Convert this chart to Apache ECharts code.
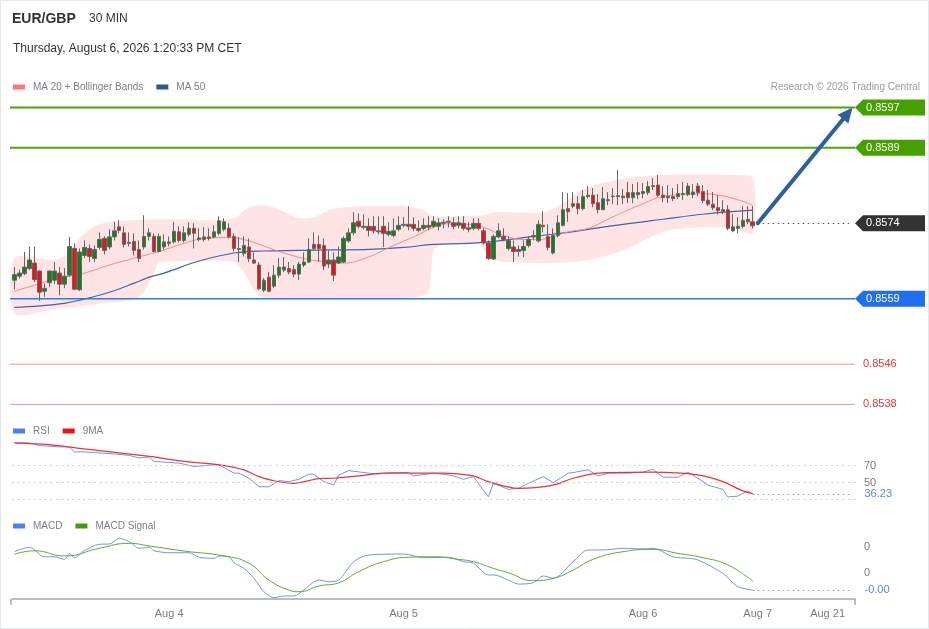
<!DOCTYPE html>
<html>
<head>
<meta charset="utf-8">
<script src="https://cdn.jsdelivr.net/npm/echarts@6.0.0/dist/echarts.min.js"></script>
<style>
html,body{margin:0;padding:0;background:#fff;}
#chart{width:929px;height:629px;}
</style>
</head>
<body>
<div id="chart"></div>
<script>
// ---------- DATA ----------
const candleOpen = [0.85627,0.85635,0.85640,0.85650,0.85661,0.85645,0.85605,0.85622,0.85627,0.85641,
 0.85619,0.85637,0.85690,0.85608,0.85676,0.85690,0.85670,0.85692,0.85710,0.85693,
 0.85713,0.85733,0.85721,0.85702,0.85704,0.85688,0.85693,0.85714,0.85714,0.85684,
 0.85693,0.85703,0.85703,0.85723,0.85706,0.85718,0.85730,0.85711,0.85708,0.85713,
 0.85713,0.85720,0.85728,0.85730,0.85714,0.85688,0.85680,0.85693,0.85667,0.85657,
 0.85607,0.85633,0.85615,0.85637,0.85647,0.85650,0.85648,0.85639,0.85657,0.85663,
 0.85698,0.85698,0.85696,0.85659,0.85667,0.85661,0.85663,0.85705,0.85721,0.85744,
 0.85732,0.85734,0.85734,0.85725,0.85734,0.85718,0.85716,0.85728,0.85736,0.85738,
 0.85738,0.85726,0.85730,0.85736,0.85734,0.85734,0.85740,0.85744,0.85741,0.85736,
 0.85740,0.85728,0.85730,0.85740,0.85725,0.85701,0.85669,0.85713,0.85714,0.85690,
 0.85693,0.85684,0.85686,0.85696,0.85713,0.85705,0.85736,0.85714,0.85681,0.85716,
 0.85736,0.85769,0.85774,0.85779,0.85769,0.85793,0.85796,0.85781,0.85767,0.85787,
 0.85793,0.85795,0.85791,0.85801,0.85791,0.85801,0.85799,0.85801,0.85813,0.85816,
 0.85796,0.85794,0.85793,0.85793,0.85797,0.85797,0.85797,0.85814,0.85803,0.85786,
 0.85778,0.85771,0.85763,0.85767,0.85725,0.85730,0.85734,0.85748,0.85743];
const candleClose = [0.85638,0.85641,0.85653,0.85667,0.85628,0.85603,0.85611,0.85645,0.85645,0.85619,
 0.85635,0.85694,0.85609,0.85683,0.85692,0.85674,0.85688,0.85708,0.85686,0.85713,
 0.85725,0.85726,0.85698,0.85700,0.85686,0.85670,0.85714,0.85721,0.85684,0.85714,
 0.85703,0.85700,0.85724,0.85706,0.85721,0.85730,0.85720,0.85708,0.85713,0.85710,
 0.85723,0.85745,0.85743,0.85713,0.85690,0.85690,0.85696,0.85670,0.85661,0.85610,
 0.85627,0.85605,0.85637,0.85653,0.85653,0.85643,0.85639,0.85659,0.85663,0.85688,
 0.85690,0.85690,0.85655,0.85667,0.85637,0.85673,0.85710,0.85721,0.85741,0.85734,
 0.85734,0.85726,0.85725,0.85723,0.85720,0.85724,0.85725,0.85736,0.85738,0.85734,
 0.85730,0.85730,0.85736,0.85732,0.85744,0.85741,0.85742,0.85742,0.85734,0.85741,
 0.85730,0.85731,0.85740,0.85730,0.85701,0.85670,0.85714,0.85725,0.85708,0.85706,
 0.85684,0.85688,0.85694,0.85708,0.85716,0.85738,0.85733,0.85692,0.85716,0.85741,
 0.85767,0.85763,0.85779,0.85769,0.85793,0.85796,0.85779,0.85767,0.85789,0.85785,
 0.85794,0.85793,0.85794,0.85791,0.85801,0.85797,0.85803,0.85813,0.85815,0.85796,
 0.85791,0.85791,0.85789,0.85799,0.85799,0.85814,0.85802,0.85801,0.85785,0.85778,
 0.85771,0.85765,0.85767,0.85730,0.85733,0.85734,0.85746,0.85743,0.85735];
const candleLow = [0.85609,0.85630,0.85637,0.85647,0.85623,0.85586,0.85594,0.85613,0.85619,0.85597,
 0.85611,0.85633,0.85607,0.85605,0.85671,0.85663,0.85663,0.85688,0.85678,0.85688,
 0.85706,0.85720,0.85692,0.85694,0.85676,0.85663,0.85688,0.85706,0.85682,0.85682,
 0.85688,0.85694,0.85700,0.85702,0.85702,0.85714,0.85690,0.85704,0.85704,0.85706,
 0.85710,0.85716,0.85724,0.85710,0.85684,0.85663,0.85674,0.85663,0.85659,0.85607,
 0.85603,0.85603,0.85611,0.85631,0.85643,0.85639,0.85633,0.85627,0.85653,0.85661,
 0.85686,0.85663,0.85647,0.85651,0.85625,0.85659,0.85661,0.85702,0.85716,0.85730,
 0.85728,0.85714,0.85720,0.85718,0.85693,0.85714,0.85712,0.85724,0.85732,0.85726,
 0.85724,0.85722,0.85726,0.85726,0.85730,0.85726,0.85730,0.85732,0.85728,0.85730,
 0.85726,0.85722,0.85726,0.85726,0.85698,0.85667,0.85667,0.85710,0.85704,0.85686,
 0.85663,0.85674,0.85673,0.85692,0.85706,0.85702,0.85722,0.85686,0.85678,0.85712,
 0.85734,0.85743,0.85770,0.85758,0.85766,0.85790,0.85772,0.85760,0.85766,0.85776,
 0.85778,0.85776,0.85778,0.85780,0.85780,0.85788,0.85790,0.85796,0.85806,0.85792,
 0.85782,0.85780,0.85784,0.85788,0.85786,0.85794,0.85790,0.85794,0.85780,0.85774,
 0.85766,0.85758,0.85758,0.85726,0.85722,0.85720,0.85730,0.85738,0.85730];
const candleHigh = [0.85653,0.85648,0.85683,0.85693,0.85693,0.85647,0.85620,0.85647,0.85663,0.85653,
 0.85651,0.85713,0.85700,0.85690,0.85706,0.85698,0.85696,0.85722,0.85714,0.85728,
 0.85743,0.85746,0.85734,0.85722,0.85720,0.85706,0.85756,0.85730,0.85720,0.85720,
 0.85718,0.85714,0.85743,0.85734,0.85734,0.85742,0.85740,0.85730,0.85732,0.85730,
 0.85736,0.85754,0.85750,0.85740,0.85720,0.85713,0.85714,0.85710,0.85682,0.85663,
 0.85631,0.85643,0.85657,0.85671,0.85673,0.85663,0.85657,0.85663,0.85682,0.85710,
 0.85722,0.85716,0.85710,0.85686,0.85682,0.85694,0.85714,0.85730,0.85762,0.85760,
 0.85758,0.85750,0.85754,0.85754,0.85754,0.85742,0.85750,0.85754,0.85752,0.85774,
 0.85752,0.85746,0.85750,0.85754,0.85754,0.85750,0.85748,0.85754,0.85752,0.85754,
 0.85754,0.85742,0.85750,0.85750,0.85730,0.85706,0.85718,0.85740,0.85730,0.85714,
 0.85706,0.85696,0.85706,0.85714,0.85726,0.85746,0.85764,0.85738,0.85730,0.85756,
 0.85802,0.85800,0.85802,0.85794,0.85806,0.85814,0.85810,0.85798,0.85812,0.85802,
 0.85810,0.85846,0.85808,0.85822,0.85818,0.85822,0.85820,0.85824,0.85830,0.85836,
 0.85814,0.85816,0.85810,0.85818,0.85822,0.85820,0.85818,0.85820,0.85816,0.85806,
 0.85802,0.85796,0.85786,0.85776,0.85758,0.85752,0.85774,0.85774,0.85774];

// moving averages / bands: [bar index, value] read at sampled positions
const ma50Points = [[0,0.85573],[5,0.85576],[10,0.85581],[13,0.85587],[19,0.85603],[24,0.85621],[27,0.85633],[30,0.85641],[37,0.85665],[44,0.85681],[50,0.85685],[57,0.85686],[64,0.85687],[71,0.85688],[78,0.85692],[84,0.85698],[91,0.85700],[98,0.85706],[104,0.85714],[111,0.85722],[115,0.85728],[122,0.85738],[130,0.85748],[138,0.85758],[148,0.85766]];
const ma20Points = [[0,0.85605],[4,0.85617],[7,0.85626],[10,0.85633],[14,0.85641],[19,0.85657],[23,0.85668],[26,0.85676],[29,0.85684],[34,0.85700],[38,0.85710],[43,0.85712],[47,0.85705],[51,0.85691],[55,0.85678],[59,0.85668],[63,0.85663],[66,0.85661],[71,0.85673],[76,0.85696],[80,0.85713],[84,0.85732],[87,0.85739],[91,0.85738],[94,0.85732],[98,0.85716],[102,0.85708],[105,0.85708],[108,0.85713],[111,0.85723],[115,0.85730],[120,0.85753],[126,0.85779],[130,0.85793],[138,0.85799],[141,0.85796],[145,0.85787],[148,0.85776]];
const bandUpper = [[0,0.85671],[8,0.85667],[11,0.85682],[13,0.85710],[16,0.85734],[20,0.85744],[30,0.85748],[40,0.85746],[44,0.85750],[47,0.85772],[50,0.85776],[53,0.85768],[57,0.85750],[60,0.85752],[63,0.85766],[66,0.85772],[78,0.85774],[82,0.85766],[84,0.85754],[94,0.85756],[96,0.85762],[106,0.85762],[110,0.85780],[113,0.85802],[117,0.85818],[123,0.85830],[130,0.85836],[144,0.85836],[148,0.85830]];
const bandLower = [[0,0.85561],[8,0.85569],[16,0.85579],[24,0.85589],[26,0.85603],[28,0.85643],[29,0.85661],[35,0.85665],[44,0.85663],[46,0.85643],[48,0.85607],[50,0.85593],[60,0.85591],[70,0.85591],[80,0.85593],[83,0.85603],[84,0.85686],[86,0.85698],[93,0.85698],[95,0.85676],[97,0.85665],[105,0.85661],[112,0.85663],[116,0.85669],[122,0.85686],[127,0.85710],[131,0.85726],[138,0.85732],[144,0.85730],[148,0.85720]];

const rsiPoints = [[0,96.7],[3,96.4],[5,93.5],[9,91.9],[11,91.9],[12,86],[14,86],[17,84.8],[20,83.6],[23,81.9],[25,78.8],[27,80],[28,74.8],[31,73.6],[33,72.9],[36,68.8],[40,70.8],[41,70.8],[44,61],[45,61],[47,55],[49,45],[51,45],[53,52.1],[55,51],[57,53.8],[59,59.8],[60,59.8],[62,51],[64,47],[65,58.9],[67,64],[71,61],[73,60.1],[76,61.7],[79,61.7],[80,57.7],[84,61],[87,58.9],[88,57.7],[90,53.8],[92,56.9],[95,33.1],[96,49],[99,41.9],[101,43.1],[103,49],[106,56.9],[108,49.8],[111,61],[112,61.7],[115,64.9],[117,57.7],[119,61],[123,61],[126,62.1],[128,65.7],[130,56.2],[133,56.2],[135,62.1],[137,55],[139,47],[142,41.9],[143,33.1],[145,33.9],[147,40.2],[148,36.23]];
const rsiMaPoints = [[0,96.7],[7,94.6],[14,89.5],[21,84.8],[27,80.7],[34,74.8],[41,70.8],[46,64.9],[49,56.9],[52,52.1],[56,49],[61,54.5],[64,55],[69,57.7],[74,61],[81,61],[86,61],[92,57.7],[95,51],[101,43.1],[108,47],[112,55],[117,61],[128,62.1],[137,58.9],[142,51],[146,40.2],[148,37.1]];
const rsiLevels = [70, 50, 30];

const macdPoints = [[0,0.000164],[3,0.000198],[6,0.000125],[8,0.000125],[10,0.000105],[11,0.000151],[12,0.000118],[14,0.000171],[17,0.000221],[19,0.000223],[21,0.000267],[23,0.000241],[25,0.000190],[27,0.000198],[28,0.000171],[31,0.000156],[35,0.000156],[37,0.000121],[40,0.000113],[41,0.000131],[43,0.000125],[44,0.000079],[46,0.000036],[48,-0.000041],[50,-0.000144],[52,-0.000190],[54,-0.000177],[56,-0.000177],[58,-0.000131],[61,-0.000054],[63,-0.000067],[65,-0.000054],[68,0.000087],[71,0.000138],[78,0.000146],[82,0.000118],[87,0.000121],[90,0.000087],[92,0.000075],[95,-0.000015],[96,-0.000015],[99,-0.000054],[101,-0.000085],[104,-0.000075],[106,-0.000023],[108,-0.000041],[112,0.000087],[115,0.000177],[118,0.000177],[122,0.000190],[126,0.000185],[128,0.000190],[132,0.000125],[135,0.000113],[137,0.000100],[142,-0.000002],[145,-0.000105],[148,-0.000131]];
const signalPoints = [[0,0.000144],[4,0.000171],[10,0.000131],[17,0.000190],[23,0.000228],[27,0.000208],[34,0.000169],[42,0.000131],[47,0.000075],[51,-0.000054],[55,-0.000131],[57,-0.000144],[61,-0.000100],[65,-0.000075],[69,0.000010],[74,0.000087],[79,0.000121],[84,0.000125],[89,0.000105],[92,0.000087],[96,0.000036],[99,0.000002],[104,-0.000059],[108,-0.000041],[112,0.000023],[116,0.000105],[122,0.000164],[128,0.000182],[133,0.000151],[138,0.000118],[143,0.000062],[148,-0.000062]];

const resistanceLevels = [0.8597, 0.8589];
const pivotLevel = 0.8574;
const supportLevels = [0.8559, 0.8546, 0.8538];

const xTickLabels = [['Aug 4',31],['Aug 5',78],['Aug 6',126],['Aug 7',149],['Aug 21',163]];
const SLOT_COUNT = 169;          // bars + forecast slots on the time axis
const FORECAST_END = 168;        // last slot used by the projection

// ---------- CHART ----------
const FONT = '"Liberation Sans", Arial, Helvetica, sans-serif';
const GRID_LEFT = 12, GRID_RIGHT = 74;
const chart = echarts.init(document.getElementById('chart'));

const categories = Array.from({length: SLOT_COUNT}, () => '');
xTickLabels.forEach(([t, i]) => { categories[i] = t; });
const ohlc = candleOpen.map((o, i) => [o, candleClose[i], candleLow[i], candleHigh[i]]);
const lastBar = candleOpen.length - 1;
const rsiLast = rsiPoints[rsiPoints.length - 1][1];
const macdLast = macdPoints[macdPoints.length - 1][1];

const C_GREEN = '#46a000', C_BLUE = '#1f6fee', C_REDLINE = '#f29292', C_REDTXT = '#ec3232';
const C_RSI = '#6f95ec', C_MACD = '#6f95ec';

function hiddenX(gridIndex){
  return {type:'category', gridIndex, data:categories, boundaryGap:true, show:false};
}
const legendText = {color:'#7c7c88', fontSize:10, fontFamily:FONT, padding:[0,0,0,3]};

const option = {
  animation:false,
  backgroundColor:'#fff',
  textStyle:{fontFamily:FONT},
  grid:[
    {left:GRID_LEFT, right:GRID_RIGHT, top:95, height:320},
    {left:GRID_LEFT, right:GRID_RIGHT, top:440, height:68},
    {left:GRID_LEFT, right:GRID_RIGHT, top:534, height:65}
  ],
  legend:[
    {left:8, top:77, itemWidth:12, itemHeight:5, icon:'rect', itemGap:13, selectedMode:false,
     textStyle:legendText, data:['MA 20 + Bollinger Bands','MA 50']},
    {left:8, top:421, itemWidth:12, itemHeight:5, icon:'rect', itemGap:13, selectedMode:false,
     textStyle:legendText, data:['RSI','9MA']},
    {left:8, top:516, itemWidth:12, itemHeight:5, icon:'rect', itemGap:13, selectedMode:false,
     textStyle:legendText, data:['MACD','MACD Signal']}
  ],
  xAxis:[
    hiddenX(0), hiddenX(1),
    {type:'category', gridIndex:2, data:categories, boundaryGap:true,
     axisLine:{show:true, onZero:false, lineStyle:{color:'#a8a8a8', width:1.5}},
     axisTick:{show:false},
     axisLabel:{interval:0, color:'#7a7a7a', fontSize:11, fontFamily:FONT, margin:9}}
  ],
  yAxis:[
    {type:'value', gridIndex:0, min:0.85359, max:0.85995, show:false},
    {type:'value', gridIndex:1, min:20, max:100, interval:10, position:'right',
     axisLine:{show:false}, axisTick:{show:false}, splitLine:{show:false},
     axisLabel:{margin:9, color:'#7a7a7a', fontSize:11, fontFamily:FONT,
       formatter:v => (v === 70 || v === 50) ? String(v) : ''}},
    {type:'value', gridIndex:2, min:-0.0002, max:0.0003, interval:0.0001, position:'right',
     axisLine:{show:false}, axisTick:{show:false}, splitLine:{show:false},
     axisLabel:{margin:9, color:'#7a7a7a', fontSize:11, fontFamily:FONT,
       formatter:v => (Math.abs(v-0.0002) < 1e-9 || Math.abs(v) < 1e-9) ? v.toFixed(0) : ''}}
  ],
  series:[
    {type:'custom', name:'band', xAxisIndex:0, yAxisIndex:0, silent:true, z:1,
     data:[[0, bandUpper[0][1]]],
     renderItem:(params, api) => {
       const up = bandUpper.map(p => api.coord([p[0], p[1]]));
       const lo = bandLower.map(p => api.coord([p[0], p[1]])).reverse();
       return {type:'polygon', shape:{points:up.concat(lo), smooth:0.25},
               style:{fill:'rgba(248,120,120,0.2)'}};
     }},
    {type:'line', name:'MA 50', xAxisIndex:0, yAxisIndex:0, data:ma50Points, smooth:0.4,
     showSymbol:false, z:2, color:'#2f5597', lineStyle:{color:'#3a66ad', width:1.2}},
    {type:'line', name:'MA 20 + Bollinger Bands', xAxisIndex:0, yAxisIndex:0, data:ma20Points, smooth:0.4,
     showSymbol:false, z:2, color:'#ff7676', lineStyle:{color:'#ff8585', width:1}},
    {type:'candlestick', name:'EUR/GBP', xAxisIndex:0, yAxisIndex:0, data:ohlc, barWidth:4, z:3,
     itemStyle:{color:'#1e7a1e', color0:'#e8141c', borderColor:'#666', borderColor0:'#666', borderWidth:1},
     markLine:{silent:true, symbol:['none','none'], label:{show:false},
       data:[[{coord:[lastBar+1, pivotLevel], lineStyle:{color:'#555', width:1.2, type:[1.5,3.5]}}, {coord:[FORECAST_END, pivotLevel]}]]}},
    {type:'line', name:'RSI', xAxisIndex:1, yAxisIndex:1, data:rsiPoints, showSymbol:false, z:3,
     color:'#4d7ff0', lineStyle:{color:C_RSI, width:1},
     markLine:{silent:true, symbol:['none','none'],
       data: rsiLevels.map(v => ({yAxis:v, lineStyle:{color:'#c4c4c4', type:[1.5,4], width:1}, label:{show:false}}))
         .concat([[{coord:[lastBar, rsiLast], lineStyle:{color:C_RSI, type:[1.5,3.5], width:1.2},
                    label:{show:true, position:'end', distance:12, formatter:rsiLast.toFixed(2), color:'#5b86e8', fontSize:11, fontFamily:FONT}},
                   {coord:[FORECAST_END, rsiLast]}]])}},
    {type:'line', name:'9MA', xAxisIndex:1, yAxisIndex:1, data:rsiMaPoints, smooth:0.3, showSymbol:false, z:4,
     color:'#ee1111', lineStyle:{color:'#ee3333', width:1.2}},
    {type:'line', name:'MACD', xAxisIndex:2, yAxisIndex:2, data:macdPoints, smooth:0.3, showSymbol:false, z:3,
     color:'#4d7ff0', lineStyle:{color:C_MACD, width:1},
     markLine:{silent:true, symbol:['none','none'],
       data:[[{coord:[lastBar, macdLast], lineStyle:{color:C_MACD, type:[1.5,3.5], width:1.2},
               label:{show:true, position:'end', distance:12, formatter:macdLast.toFixed(2), color:'#5b86e8', fontSize:11, fontFamily:FONT}},
              {coord:[FORECAST_END, macdLast]}]]}},
    {type:'line', name:'MACD Signal', xAxisIndex:2, yAxisIndex:2, data:signalPoints, smooth:0.5, showSymbol:false, z:3,
     color:'#3e9e0c', lineStyle:{color:'#5dad2c', width:1}}
  ]
};
chart.setOption(option);

// ---------- overlays: header, level lines and tags, projection arrow ----------
const W = chart.getWidth();
const gridRightX = W - GRID_RIGHT;
const toPx = (i, v) => chart.convertToPixel({gridIndex:0}, [i, v]);
const g = [];

g.push({type:'rect', shape:{x:0.5, y:0.5, width:W-1, height:chart.getHeight()-1}, style:{fill:null, stroke:'#e2e8ea', lineWidth:1}, silent:true});
g.push({type:'text', x:12, y:19, style:{text:'EUR/GBP', fill:'#333', fontSize:14, fontWeight:'bold', fontFamily:FONT, verticalAlign:'middle'}});
g.push({type:'text', x:89, y:19, style:{text:'30 MIN', fill:'#333', fontSize:12, fontFamily:FONT, verticalAlign:'middle'}});
g.push({type:'text', x:13, y:49, style:{text:'Thursday, August 6, 2026 1:20:33 PM CET', fill:'#333', fontSize:12, fontFamily:FONT, verticalAlign:'middle'}});
g.push({type:'text', x:920, y:87, style:{text:'Research \u00A9 2026 Trading Central', fill:'#9a9aa4', fontSize:10, fontFamily:FONT, align:'right', verticalAlign:'middle'}});

// axis end ticks
g.push({type:'line', shape:{x1:GRID_LEFT-1, y1:599, x2:GRID_LEFT-1, y2:605}, style:{stroke:'#a8a8a8', lineWidth:1.5}});
g.push({type:'line', shape:{x1:gridRightX, y1:599, x2:gridRightX, y2:605}, style:{stroke:'#a8a8a8', lineWidth:1.5}});

function levelLine(value, color, width){
  const y = toPx(0, value)[1];
  g.push({type:'line', z:50, silent:true, shape:{x1:GRID_LEFT-2, y1:y, x2:gridRightX, y2:y}, style:{stroke:color, lineWidth:width}});
  return y;
}
function tag(y, value, color){
  const x0 = gridRightX, h = 8;
  g.push({type:'polygon', shape:{points:[[x0, y],[x0+8, y-h],[925, y-h],[925, y+h],[x0+8, y+h]]}, style:{fill:color}, z:100});
  g.push({type:'text', x:x0+11, y:y, z:101, style:{text:value.toFixed(4), fill:'#fff', fontSize:11, fontFamily:FONT, verticalAlign:'middle'}});
}
resistanceLevels.forEach(v => { const y = levelLine(v, '#4ea40c', 2); tag(y, v, C_GREEN); });
tag(toPx(0, pivotLevel)[1], pivotLevel, '#333333');
{ const y = levelLine(supportLevels[0], '#2f78ee', 1.5); tag(y, supportLevels[0], C_BLUE); }
supportLevels.slice(1).forEach(v => {
  const y = levelLine(v, C_REDLINE, 1);
  g.push({type:'text', x:gridRightX+8, y:y, z:101, style:{text:v.toFixed(4), fill:C_REDTXT, fontSize:11, fontFamily:FONT, verticalAlign:'middle'}});
});

// projection arrow from last close to first resistance
const a0 = toPx(lastBar + 1, pivotLevel);
const a1 = toPx(FORECAST_END, resistanceLevels[0]);
const dx = a1[0]-a0[0], dy = a1[1]-a0[1], len = Math.hypot(dx, dy);
const ux = dx/len, uy = dy/len, nx = -uy, ny = ux;
const headL = 15, headW = 7;
const bx = a1[0]-ux*headL, by = a1[1]-uy*headL;
g.push({type:'line', shape:{x1:a0[0], y1:a0[1], x2:bx, y2:by}, style:{stroke:'#2e5f9f', lineWidth:4, lineCap:'round'}, z:110});
g.push({type:'polygon', shape:{points:[[a1[0],a1[1]],[bx+nx*headW, by+ny*headW],[bx-nx*headW, by-ny*headW]]}, style:{fill:'#2e5f9f'}, z:110});

chart.setOption({graphic:{elements:g}});
</script>
</body>
</html>
